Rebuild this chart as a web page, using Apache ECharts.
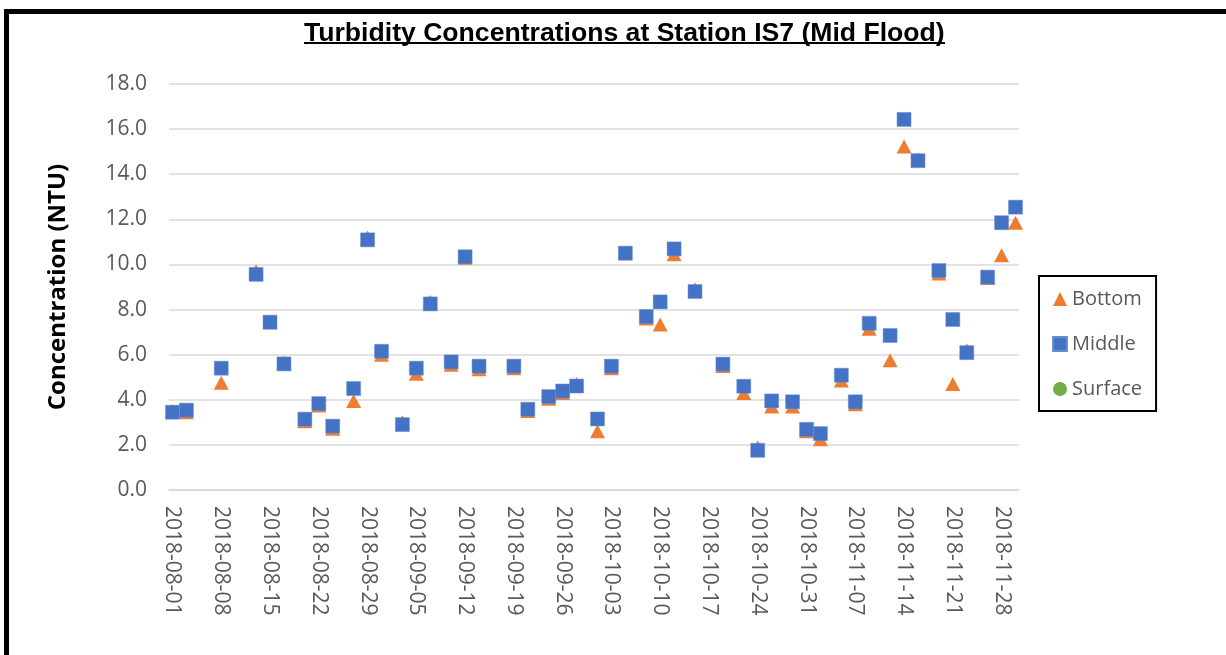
<!DOCTYPE html>
<html>
<head>
<meta charset="utf-8">
<title>Turbidity Concentrations at Station IS7 (Mid Flood)</title>
<script src="https://cdn.jsdelivr.net/npm/echarts@6/dist/echarts.min.js"></script>
<style>
  html, body { margin: 0; padding: 0; background: #fff; }
  #chart { width: 1226px; height: 655px; }
</style>
</head>
<body>
<div id="chart"></div>
<script>
// sample dates (mid flood)
const sampleDates = [
  '2018-08-01', '2018-08-03', '2018-08-08', '2018-08-13', '2018-08-15', '2018-08-17',
  '2018-08-20', '2018-08-22', '2018-08-24', '2018-08-27', '2018-08-29', '2018-08-31',
  '2018-09-03', '2018-09-05', '2018-09-07', '2018-09-10', '2018-09-12', '2018-09-14',
  '2018-09-19', '2018-09-21', '2018-09-24', '2018-09-26', '2018-09-28', '2018-10-01',
  '2018-10-03', '2018-10-05', '2018-10-08', '2018-10-10', '2018-10-12', '2018-10-15',
  '2018-10-19', '2018-10-22', '2018-10-24', '2018-10-26', '2018-10-29', '2018-10-31',
  '2018-11-02', '2018-11-05', '2018-11-07', '2018-11-09', '2018-11-12', '2018-11-14',
  '2018-11-16', '2018-11-19', '2018-11-21', '2018-11-23', '2018-11-26', '2018-11-28',
  '2018-11-30'
]
const bottomValues = [
  3.5, 3.45, 4.75, 9.7, 7.44, 5.65, 3.05, 3.75, 2.72, 3.95, 11.2, 6.0,
  3.0, 5.15, 8.35, 5.55, 10.3, 5.35, 5.4, 3.5, 4.05, 4.3, 4.7, 2.6,
  5.4, 10.5, 7.6, 7.34, 10.45, 8.9, 5.5, 4.3, 1.9, 3.7, 3.7, 2.6,
  2.25, 4.85, 3.8, 7.15, 5.75, 15.23, 14.65, 9.6, 4.7, 6.2, 9.4, 10.41,
  11.85
]
const middleValues = [
  3.45, 3.54, 5.40, 9.56, 7.44, 5.59, 3.14, 3.83, 2.83, 4.50, 11.09, 6.15,
  2.90, 5.40, 8.25, 5.68, 10.34, 5.49, 5.49, 3.58, 4.14, 4.39, 4.61, 3.15,
  5.49, 10.50, 7.69, 8.34, 10.69, 8.80, 5.58, 4.60, 1.76, 3.95, 3.91, 2.69,
  2.50, 5.09, 3.91, 7.39, 6.85, 16.43, 14.60, 9.73, 7.56, 6.09, 9.44, 11.85,
  12.54
]
const surfaceValues = [] // nothing plotted for surface
const axisStart = '2018-08-01'
const axisEnd = '2018-11-30'
const yTicks = { min: 0, max: 18, interval: 2 }

// one category per day on the date axis
const dayCategories = []
for (let t = Date.parse(axisStart); t <= Date.parse(axisEnd); t += 86400000) {
  dayCategories.push(new Date(t).toISOString().slice(0, 10))
}

const pairs = (vals) => vals.map((v, i) => [sampleDates[i], v])

const chart = echarts.init(document.getElementById('chart'))
const labelFont = '"Open Sans", "Noto Sans", sans-serif'

chart.setOption({
  backgroundColor: '#fff',
  animation: false,
  title: {
    text: 'Turbidity Concentrations at Station IS7 (Mid Flood)',
    left: 299,
    top: 15,
    textStyle: {
      fontFamily: '"Liberation Sans", Arial, sans-serif',
      fontWeight: 'bold',
      fontSize: 26.6,
      color: '#000'
    }
  },
  graphic: [
    // partial outer frame (top and left)
    { type: 'rect', shape: { x: 4, y: 9, width: 1222, height: 5 }, style: { fill: '#000' } },
    { type: 'rect', shape: { x: 4, y: 9, width: 5, height: 646 }, style: { fill: '#000' } },
    // title underline
    { type: 'line', shape: { x1: 304, y1: 43, x2: 945, y2: 43 }, style: { stroke: '#000', lineWidth: 2 } }
  ],
  legend: {
    orient: 'vertical',
    left: 1039,
    top: 276,
    padding: [13, 14, 12, 13],
    itemGap: 25,
    itemWidth: 14,
    itemHeight: 14,
    borderColor: '#000',
    borderWidth: 2,
    textStyle: { fontFamily: labelFont, fontSize: 20, color: '#595959' },
    data: [
      { name: 'Bottom', icon: 'triangle' },
      { name: 'Middle', icon: 'rect' },
      { name: 'Surface', icon: 'circle' }
    ]
  },
  grid: { left: 169, right: 207, top: 84, bottom: 165 },
  xAxis: {
    type: 'category',
    data: dayCategories,
    boundaryGap: true,
    axisLine: { lineStyle: { color: '#d9d9d9', width: 1.5 } },
    axisTick: { show: false },
    axisLabel: {
      interval: 6,
      rotate: -90,
      margin: 16,
      fontFamily: labelFont,
      fontSize: 21,
      color: '#595959'
    },
    splitLine: { show: false }
  },
  yAxis: {
    type: 'value',
    min: yTicks.min,
    max: yTicks.max,
    interval: yTicks.interval,
    name: 'Concentration (NTU)',
    nameLocation: 'middle',
    nameGap: 99,
    nameTextStyle: { fontFamily: labelFont, fontSize: 24, fontWeight: 'bold', color: '#000' },
    axisLine: { show: false },
    axisTick: { show: false },
    axisLabel: {
      margin: 22,
      fontFamily: labelFont,
      fontSize: 21,
      color: '#595959',
      formatter: (v) => v.toFixed(1)
    },
    splitLine: { lineStyle: { color: '#d9d9d9', width: 1.5 } }
  },
  series: [
    {
      name: 'Bottom',
      type: 'scatter',
      symbol: 'triangle',
      symbolSize: [15, 14],
      itemStyle: { color: '#ED7D31', opacity: 1 },
      data: pairs(bottomValues)
    },
    {
      name: 'Middle',
      type: 'scatter',
      symbol: 'rect',
      symbolSize: 14,
      itemStyle: { color: '#4472C4', borderColor: '#6b8fd1', borderWidth: 0.5, opacity: 1 },
      data: pairs(middleValues)
    },
    {
      name: 'Surface',
      type: 'scatter',
      symbol: 'circle',
      symbolSize: 14,
      itemStyle: { color: '#70AD47', opacity: 1 },
      data: pairs(surfaceValues)
    }
  ]
})
</script>
</body>
</html>
